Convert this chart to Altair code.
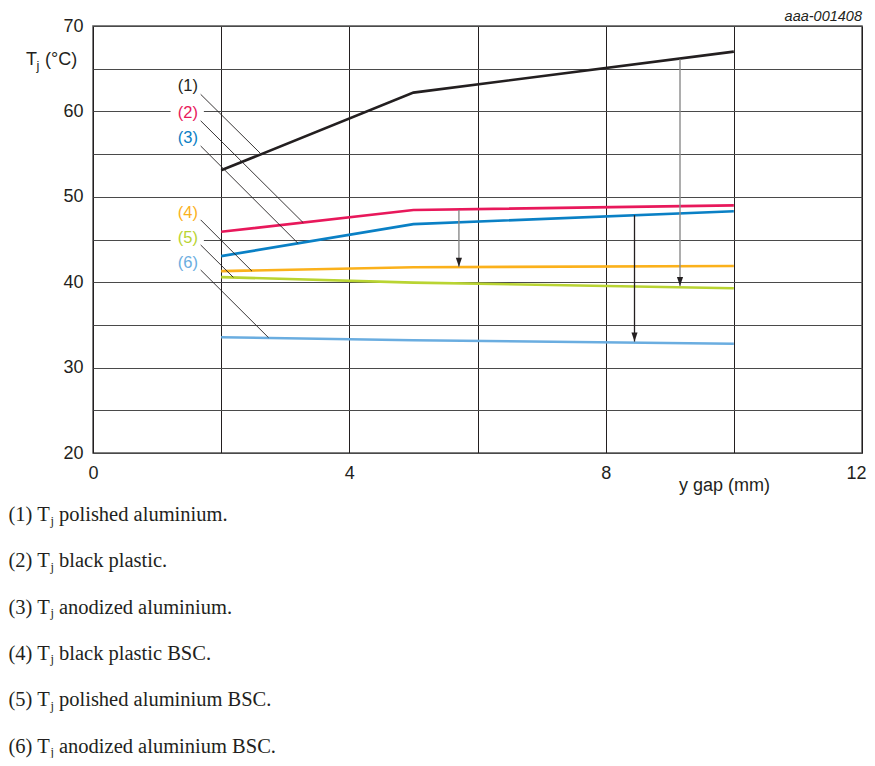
import altair as alt
import pandas as pd

# ---------------- data ----------------
gap_mm = [2, 5, 10]
t1 = [53.1, 62.2, 67.0]   # (1) polished aluminium
t2 = [45.9, 48.45, 49.0]  # (2) black plastic
t3 = [43.05, 46.8, 48.3]  # (3) anodized aluminium
t4 = [41.3, 41.75, 41.9]  # (4) black plastic BSC
t5 = [40.6, 39.95, 39.3]  # (5) polished aluminium BSC
t6 = [33.55, 33.2, 32.8]  # (6) anodized aluminium BSC

series_ids = ["(1)", "(2)", "(3)", "(4)", "(5)", "(6)"]
series_colors = ["#231f20", "#e8185b", "#0a80c5", "#fbb11b", "#b9d432", "#6aade0"]

label_x = [1.48, 1.48, 1.48, 1.48, 1.48, 1.48]
label_y = [62.97, 59.85, 56.85, 48.07, 45.14, 42.2]
lead_x0 = [1.68, 1.68, 1.68, 1.68, 1.68, 1.68]
lead_y0 = [62.0, 58.9, 55.95, 47.3, 44.36, 41.43]
lead_x1 = [2.61, 3.28, 3.20, 2.48, 2.19, 2.74]
lead_y1 = [55.1, 46.97, 44.55, 41.3, 40.57, 33.5]

arrow_x = [5.71, 8.45, 9.16]
arrow_from = [48.45, 47.85, 66.1]
arrow_to = [41.8, 33.05, 39.55]
arrow_kind = ["grey", "black", "grey"]

x_ticks = [0, 2, 4, 6, 8, 10, 12]
y_ticks = [20, 25, 30, 35, 40, 45, 50, 55, 60, 65, 70]

caption_prefix = ["(1) T", "(2) T", "(3) T", "(4) T", "(5) T", "(6) T"]
caption_rest = ["polished aluminium.", "black plastic.", "anodized aluminium.",
                "black plastic BSC.", "polished aluminium BSC.", "anodized aluminium BSC."]

# ---------------- tables ----------------
all_series = [t1, t2, t3, t4, t5, t6]
lines_df = pd.DataFrame(
    [{"series": s, "gap": g, "tj": v}
     for s, vals in zip(series_ids, all_series) for g, v in zip(gap_mm, vals)]
)
labels_df = pd.DataFrame({"series": series_ids, "x": label_x, "y": label_y})
labels_df["bx0"] = labels_df["x"] - 0.27
labels_df["bx1"] = labels_df["x"] + 0.25
labels_df["by0"] = labels_df["y"] - 0.9
labels_df["by1"] = labels_df["y"] + 0.9
leaders_df = pd.DataFrame({"x": lead_x0, "y": lead_y0, "x2": lead_x1, "y2": lead_y1})
arrows_df = pd.DataFrame({"x": arrow_x, "y": arrow_from, "y2": arrow_to, "kind": arrow_kind})

FONT = "Liberation Sans"
xs = alt.Scale(domain=[0, 12], nice=False, zero=False)
ys = alt.Scale(domain=[20, 70], nice=False, zero=False)
x_axis = alt.Axis(values=x_ticks, grid=True, gridColor="#231f20", title=None,
                  labelExpr="datum.value % 4 == 0 ? datum.label : ''",
                  labelOffset={"condition": {"test": "datum.value == 12", "value": -6}, "value": 0},
                  labelPadding=11, labelFontSize=18, labelFlush=False)
y_axis = alt.Axis(values=y_ticks, grid=True, gridColor="#4a4a4a", title=None,
                  labelExpr="datum.value % 10 == 0 ? datum.label : ''",
                  labelPadding=10, labelFontSize=18, labelFlush=False)
color_scale = alt.Scale(domain=series_ids, range=series_colors)


def X(f):
    return alt.X(f, type="quantitative", scale=xs, axis=x_axis)


def Y(f):
    return alt.Y(f, type="quantitative", scale=ys, axis=y_axis)


lines = alt.Chart(lines_df).mark_line(strokeWidth=2.6).encode(
    x=X("gap"), y=Y("tj"),
    color=alt.Color("series:N", scale=color_scale, legend=None),
    detail="series:N",
)

label_bg = alt.Chart(labels_df).mark_rect(color="white").encode(
    x=X("bx0"), x2="bx1", y=Y("by0"), y2="by1"
)
label_txt = alt.Chart(labels_df).mark_text(font=FONT, fontSize=16.5, baseline="middle",
                                           align="center").encode(
    x=X("x"), y=Y("y"), text="series:N",
    color=alt.Color("series:N", scale=color_scale, legend=None),
)
leaders = alt.Chart(leaders_df).mark_rule(color="#231f20", strokeWidth=0.9).encode(
    x=X("x"), y=Y("y"), x2="x2", y2="y2"
)
arrow_grey = alt.Chart(arrows_df).transform_filter(alt.datum.kind == "grey").mark_rule(
    strokeWidth=1.4, color="#8a8a8a").encode(x=X("x"), y=Y("y"), y2="y2")
arrow_black = alt.Chart(arrows_df).transform_filter(alt.datum.kind == "black").mark_rule(
    strokeWidth=1.3, color="#231f20").encode(x=X("x"), y=Y("y"), y2="y2")
arrow_heads = alt.Chart(arrows_df).mark_point(
    shape="M-0.34,-1L0.34,-1L0,0Z", filled=True, opacity=1, size=324,
    color="#231f20", strokeWidth=0,
).encode(x=X("x"), y=Y("y2"))

layers = [lines, label_bg, leaders, label_txt, arrow_grey, arrow_black, arrow_heads]

# axis titles and stamp (pixel positions relative to plot origin)
def txt(text, x, y, **kw):
    base = dict(font=FONT, fontSize=18, color="#231f20", align="left", baseline="alphabetic")
    base.update(kw)
    return alt.Chart(pd.DataFrame({"t": [text]})).mark_text(**base).encode(
        x=alt.value(x), y=alt.value(y), text="t:N")

layers += [
    txt("T", -67, 39),
    txt("j", -56.5, 44, fontSize=13),
    txt("(°C)", -48, 39),
    txt("y gap (mm)", 586, 465),
    txt("aaa-001408", 769, -5, align="right", fontSize=14.5, fontStyle="italic"),
]

# caption block below the chart
for i in range(6):
    yb = 495 + 46.3 * i
    layers += [
        txt(caption_prefix[i], -84.5, yb, font="Liberation Serif", fontSize=20.5),
        txt("j", -42.5, yb + 3.5, font="Liberation Serif", fontSize=12.5),
        txt(caption_rest[i], -34, yb, font="Liberation Serif", fontSize=20.5),
    ]

chart = alt.layer(*layers).properties(
    width=769, height=427,
    autosize=alt.AutoSizeParams(type="none"),
    padding={"left": 85, "top": 18, "right": 5, "bottom": 305},
).configure_view(stroke="#555555", strokeWidth=1.5).configure_axis(
    domain=False, ticks=False, labelFont=FONT, labelColor="#231f20", gridWidth=1,
)

chart.save("out.html", embed_options={"renderer": "svg", "actions": False})
